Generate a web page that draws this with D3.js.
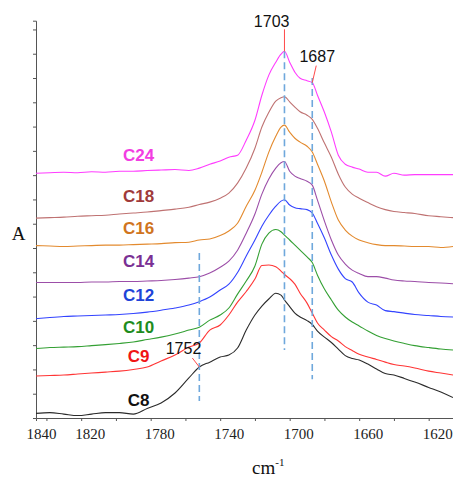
<!DOCTYPE html>
<html>
<head>
<meta charset="utf-8">
<script src="https://cdn.jsdelivr.net/npm/d3@7"></script>
<style>
  html, body { margin: 0; padding: 0; background: #fff; }
  svg { display: block; }
  .serif { font-family: 'Liberation Serif', 'Times New Roman', serif; }
  .sans { font-family: 'Liberation Sans', Arial, sans-serif; }
</style>
</head>
<body>
<svg id="chart" width="453" height="477"></svg>
<script>
// Wavenumber grid (cm-1) shared by every spectrum
const wavenumbers = [1846, 1838, 1830, 1822, 1814, 1806, 1798, 1790, 1782, 1774,
  1766, 1758, 1752, 1746, 1740, 1735, 1730, 1725, 1720, 1716,
  1712, 1708, 1705, 1703, 1700, 1697, 1694, 1690, 1687, 1684,
  1680, 1676, 1672, 1668, 1664, 1660, 1655, 1650, 1645, 1640,
  1634, 1628, 1620, 1613, 1606];

// Absorbance of each chain length, stacked with a vertical offset
const c8 = [0.019, 0.022, 0.016, 0.010, 0.016, 0.022, 0.022, 0.016, 0.039, 0.062,
  0.103, 0.165, 0.210, 0.230, 0.251, 0.259, 0.288, 0.362, 0.424, 0.461,
  0.490, 0.514, 0.506, 0.486, 0.459, 0.432, 0.416, 0.401, 0.385, 0.358,
  0.333, 0.311, 0.284, 0.257, 0.245, 0.239, 0.222, 0.202, 0.183, 0.177,
  0.163, 0.148, 0.126, 0.107, 0.084];
const c9 = [0.173, 0.175, 0.177, 0.181, 0.185, 0.189, 0.193, 0.200, 0.210, 0.235,
  0.259, 0.292, 0.309, 0.362, 0.383, 0.424, 0.477, 0.521, 0.572, 0.628,
  0.630, 0.623, 0.605, 0.591, 0.574, 0.551, 0.514, 0.473, 0.432, 0.391,
  0.362, 0.335, 0.317, 0.294, 0.278, 0.263, 0.251, 0.241, 0.230, 0.220,
  0.214, 0.206, 0.193, 0.185, 0.177];
const c10 = [0.286, 0.290, 0.292, 0.294, 0.298, 0.302, 0.307, 0.313, 0.323, 0.333,
  0.346, 0.362, 0.374, 0.403, 0.424, 0.453, 0.510, 0.564, 0.626, 0.716,
  0.761, 0.776, 0.767, 0.753, 0.733, 0.712, 0.691, 0.663, 0.640, 0.588,
  0.531, 0.486, 0.444, 0.416, 0.395, 0.379, 0.358, 0.340, 0.327, 0.317,
  0.307, 0.298, 0.290, 0.284, 0.280];
const c12 = [0.409, 0.414, 0.418, 0.420, 0.422, 0.424, 0.426, 0.430, 0.436, 0.444,
  0.453, 0.465, 0.479, 0.498, 0.527, 0.551, 0.599, 0.667, 0.733, 0.790,
  0.835, 0.872, 0.893, 0.899, 0.877, 0.866, 0.862, 0.858, 0.844, 0.802,
  0.741, 0.671, 0.613, 0.574, 0.560, 0.514, 0.477, 0.465, 0.442, 0.438,
  0.432, 0.426, 0.422, 0.418, 0.416];
const c14 = [0.558, 0.558, 0.558, 0.558, 0.560, 0.560, 0.562, 0.562, 0.564, 0.566,
  0.570, 0.576, 0.582, 0.597, 0.621, 0.646, 0.691, 0.761, 0.840, 0.922,
  0.984, 1.029, 1.051, 1.056, 1.016, 0.996, 0.986, 0.975, 0.959, 0.897,
  0.811, 0.733, 0.671, 0.634, 0.609, 0.595, 0.582, 0.582, 0.576, 0.568,
  0.564, 0.562, 0.558, 0.556, 0.553];
const c16 = [0.710, 0.708, 0.706, 0.708, 0.710, 0.712, 0.712, 0.714, 0.716, 0.718,
  0.722, 0.724, 0.733, 0.737, 0.751, 0.770, 0.802, 0.872, 0.938, 1.012,
  1.095, 1.160, 1.198, 1.206, 1.177, 1.152, 1.136, 1.119, 1.095, 1.045,
  0.975, 0.889, 0.815, 0.774, 0.749, 0.733, 0.722, 0.714, 0.710, 0.710,
  0.708, 0.706, 0.706, 0.702, 0.706];
const c18 = [0.823, 0.825, 0.827, 0.831, 0.833, 0.835, 0.840, 0.844, 0.848, 0.854,
  0.860, 0.868, 0.879, 0.889, 0.905, 0.926, 0.967, 1.029, 1.111, 1.198,
  1.259, 1.305, 1.319, 1.323, 1.302, 1.280, 1.261, 1.247, 1.230, 1.193,
  1.132, 1.074, 1.004, 0.951, 0.922, 0.905, 0.887, 0.870, 0.858, 0.850,
  0.846, 0.842, 0.833, 0.829, 0.825];
const c24 = [1.008, 1.010, 1.012, 1.010, 1.014, 1.012, 1.016, 1.016, 1.019, 1.021,
  1.023, 1.019, 1.029, 1.045, 1.058, 1.074, 1.082, 1.144, 1.226, 1.329,
  1.412, 1.465, 1.498, 1.510, 1.465, 1.424, 1.399, 1.389, 1.381, 1.329,
  1.259, 1.177, 1.082, 1.045, 1.033, 1.025, 1.012, 1.012, 0.996, 1.008,
  1.000, 1.002, 1.002, 1.002, 1.002];

const seriesNames = ["C8", "C9", "C10", "C12", "C14", "C16", "C18", "C24"];
const seriesValues = [c8, c9, c10, c12, c14, c16, c18, c24];

// Bottom axis ticks and their labels
const xTickValues = [1840, 1820, 1800, 1780, 1760, 1740, 1720, 1700, 1680, 1660, 1640, 1620];
const xTickLabels = ["1840", "1820", "", "1780", "", "1740", "", "1700", "", "1660", "", "1620"];

// Marked bands: position, the trace the callout points at, dashed guide extent
const bandPositions = [1752, 1703, 1687];
const bandTrace = ["C8", "C24", "C24"];
const bandTop = [0.679, 1.510, 1.400];
const bandBottom = [0.070, 0.280, 0.160];

// ---- drawing ----
const svg = d3.select("#chart");
svg.append("rect").attr("width", 453).attr("height", 477).attr("fill", "#fff");

const x = d3.scaleLinear().domain([1846, 1606]).range([36, 453]);
const y = d3.scaleLinear().domain([0, 1.636]).range([418, 20.7]);

const lineColors = {
  C8: "#2b2b2b", C9: "#ff3535", C10: "#34a034", C12: "#3344ff",
  C14: "#9c4ea8", C16: "#e38a2e", C18: "#bf7272", C24: "#ff3cff"
};
const labelColors = {
  C8: "#111111", C9: "#f01515", C10: "#1e8c1e", C12: "#1f44d8",
  C14: "#7a3094", C16: "#d07420", C18: "#a03a3a", C24: "#f23ee2"
};
// label lift above each trace's left end (px)
const labelLift = { C8: 13.5, C9: 20, C10: 21.5, C12: 23.5, C14: 21.5, C16: 17.5, C18: 22, C24: 18 };

// Axes
const xAxis = d3.axisBottom(x)
  .tickValues(xTickValues)
  .tickFormat((d, i) => xTickLabels[i])
  .tickSize(3)
  .tickSizeOuter(3);
const gx = svg.append("g").attr("transform", "translate(0,418)").call(xAxis)
  .attr("font-family", null).attr("font-size", null);
gx.selectAll("path, line").attr("stroke", "#555").attr("stroke-width", 1);
gx.selectAll("text")
  .attr("class", "serif")
  .style("font-family", "'Liberation Serif', 'Times New Roman', serif")
  .style("font-size", "15px")
  .attr("fill", "#222")
  .attr("y", 10)
  .attr("dx", d => d === 1840 ? -5.5 : 8.5);

const yAxis = d3.axisLeft(y)
  .tickValues(d3.range(0, 1.61, 0.1))
  .tickFormat("")
  .tickSize(3)
  .tickSizeOuter(3);
const gy = svg.append("g").attr("transform", "translate(36,0)").call(yAxis);
gy.selectAll("path, line").attr("stroke", "#555").attr("stroke-width", 1);

// Axis titles
svg.append("text")
  .attr("class", "serif")
  .attr("x", 18.5).attr("y", 239.5)
  .attr("text-anchor", "middle")
  .style("font-size", "19px")
  .attr("fill", "#111")
  .text("A");

const xTitle = svg.append("text")
  .attr("class", "serif")
  .attr("x", 252).attr("y", 474)
  .style("font-size", "19px")
  .attr("fill", "#111");
xTitle.append("tspan").text("cm");
xTitle.append("tspan").style("font-size", "11px").attr("dy", -8).text("-1");

// Spectra
const line = d3.line()
  .x((d, i) => x(wavenumbers[i]))
  .y(d => y(d))
  .curve(d3.curveMonotoneX);

svg.append("g").selectAll("path")
  .data(seriesNames)
  .join("path")
  .attr("d", (name, i) => line(seriesValues[i]))
  .attr("fill", "none")
  .attr("stroke", name => lineColors[name])
  .attr("stroke-width", 1.1)
  .attr("stroke-linejoin", "round");

// Series labels
svg.append("g").selectAll("text")
  .data(seriesNames)
  .join("text")
  .attr("class", "sans")
  .attr("x", x(1787))
  .attr("y", (name, i) => y(seriesValues[i][0]) - labelLift[name] + 6)
  .attr("text-anchor", "middle")
  .style("font-weight", "bold")
  .style("font-size", "17px")
  .attr("fill", name => labelColors[name])
  .text(name => name);

// Dashed guides at the marked bands
svg.append("g").selectAll("line")
  .data(bandPositions)
  .join("line")
  .attr("x1", d => x(d)).attr("x2", d => x(d))
  .attr("y1", (d, i) => y(bandTop[i]))
  .attr("y2", (d, i) => y(bandBottom[i]))
  .attr("stroke", "#6fa8dc")
  .attr("stroke-width", 1.6)
  .attr("stroke-dasharray", "7,4");

// Callouts: leader vector and text placement relative to the leader tip (px)
const calloutStyle = [
  { lx: -7, ly: -9, tx: 9, ty: -4, anchor: "end" },
  { lx: 0, ly: -22, tx: 5, ty: -2, anchor: "end" },
  { lx: 4, ly: -17, tx: 1, ty: -4, anchor: "middle" }
];
const callouts = svg.append("g");
bandPositions.forEach((wn, i) => {
  const trace = seriesValues[seriesNames.indexOf(bandTrace[i])];
  const ax = x(wn);
  const ay = y(trace[wavenumbers.indexOf(wn)]);
  const s = calloutStyle[i];
  callouts.append("line")
    .attr("x1", ax).attr("y1", ay)
    .attr("x2", ax + s.lx).attr("y2", ay + s.ly)
    .attr("stroke", "#ff4a4a")
    .attr("stroke-width", 1);
  callouts.append("text")
    .attr("class", "sans")
    .attr("x", ax + s.lx + s.tx)
    .attr("y", ay + s.ly + s.ty)
    .style("text-anchor", s.anchor)
    .style("font-size", "16px")
    .attr("fill", "#111")
    .text(String(wn));
});
</script>
</body>
</html>
